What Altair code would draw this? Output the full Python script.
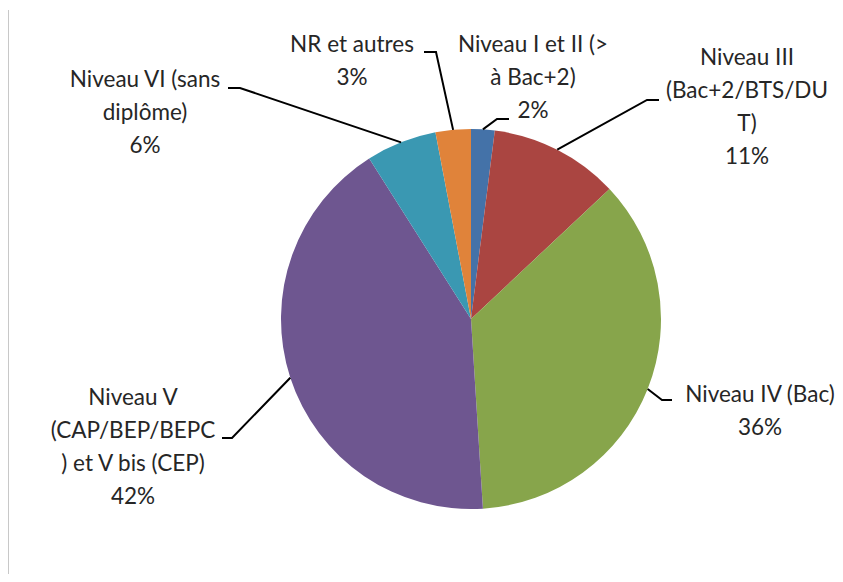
import altair as alt
import pandas as pd
import numpy as np

# ---------------- data ----------------
categories = [
    "Niveau I et II",
    "Niveau III",
    "Niveau IV",
    "Niveau V",
    "Niveau VI",
    "NR et autres",
]
values = [2, 11, 36, 42, 6, 3]
label_lines = [
    ["Niveau I et II (>", "à Bac+2)"],
    ["Niveau III", "(Bac+2/BTS/DU", "T)"],
    ["Niveau IV (Bac)"],
    ["Niveau V", "(CAP/BEP/BEPC", ") et V bis (CEP)"],
    ["Niveau VI (sans", "diplôme)"],
    ["NR et autres"],
]
colors = ["#4472A8", "#AA4541", "#87A54B", "#6E5690", "#3A98B2", "#E0833A"]

# ---------------- layout (pixel offsets from pie centre) ----------------
W, H = 827, 566          # plot area
CX, CY, R = 463, 311, 190  # pie centre and radius in plot pixels
elbow_off = [(26, -200), (176, -219), (191, 81), (-239, 119), (-231, -231), (-35, -267)]
end_off = [(38, -200), (188, -219), (201, 81), (-249, 119), (-243, -231), (-47, -267)]
# centre of the first text line of each label
label_off = [(62, -274), (276, -261), (289, 76), (-338, 79), (-326, -239), (-119, -274)]

# ---------------- derived tables ----------------
vals = np.array(values, dtype=float)
total = vals.sum()
cum = np.cumsum(vals) - vals / 2
mid = cum / total * 2 * np.pi  # clockwise from 12 o'clock

pie_df = pd.DataFrame({"cat": categories, "value": values, "order": range(len(values))})

rows = []
for i, c in enumerate(categories):
    rows.append({"cat": c, "seq": 0, "ux": np.sin(mid[i]), "uy": np.cos(mid[i])})
    rows.append({"cat": c, "seq": 1, "ux": elbow_off[i][0] / R, "uy": -elbow_off[i][1] / R})
    rows.append({"cat": c, "seq": 2, "ux": end_off[i][0] / R, "uy": -end_off[i][1] / R})
line_df = pd.DataFrame(rows)

lab_df = pd.DataFrame({
    "cat": categories,
    "text": ["\n".join(l + [f"{v}%"]) for l, v in zip(label_lines, values)],
    "ux": [o[0] / R for o in label_off],
    "uy": [-o[1] / R for o in label_off],
})

xs = alt.Scale(domain=[-CX / R, (W - CX) / R], nice=False, zero=False)
ys = alt.Scale(domain=[-(H - CY) / R, CY / R], nice=False, zero=False)

pie = alt.Chart(pie_df).mark_arc(outerRadius=R, stroke=None).encode(
    theta=alt.Theta("value:Q", stack=True),
    order=alt.Order("order:Q"),
    color=alt.Color("cat:N", scale=alt.Scale(domain=categories, range=colors), legend=None),
    x=alt.value(CX),
    y=alt.value(CY),
)

leaders = alt.Chart(line_df).mark_line(color="black", strokeWidth=2).encode(
    x=alt.X("ux:Q", scale=xs, axis=None),
    y=alt.Y("uy:Q", scale=ys, axis=None),
    detail="cat:N",
    order="seq:Q",
)

labels = alt.Chart(lab_df).mark_text(
    lineBreak="\n", lineHeight=33, fontSize=22.5, font="Lato",
    align="center", baseline="middle", color="#262626",
).encode(
    x=alt.X("ux:Q", scale=xs, axis=None),
    y=alt.Y("uy:Q", scale=ys, axis=None),
    text="text:N",
)

border = alt.Chart(pie_df).mark_rule(color="#C8C8C8", strokeWidth=1).encode(
    x=alt.value(0), y=alt.value(2), y2=alt.value(574)
)

chart = alt.layer(border, pie, leaders, labels).properties(
    width=W, height=H, padding=0, autosize=alt.AutoSizeParams(type="none"),
).configure_view(stroke=None)

chart.save("out.html", embed_options={"renderer": "svg", "actions": False})
